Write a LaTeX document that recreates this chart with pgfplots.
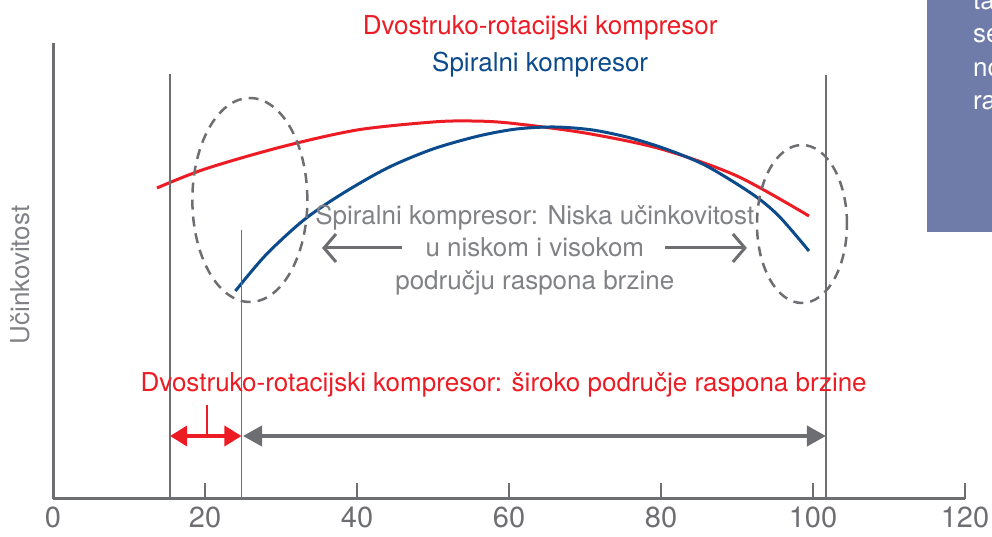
\documentclass[border=0pt]{standalone}
\usepackage{pgfplots}
\pgfplotsset{compat=1.18}
\usepackage{fontspec}
\setmainfont{TeX Gyre Heros}
\usetikzlibrary{arrows.meta}
\definecolor{cred}{HTML}{ED1C24}
\definecolor{cblue}{HTML}{0B4A8B}
\definecolor{cgray}{HTML}{6D6E71}
\definecolor{tgray}{HTML}{808285}
\definecolor{cbox}{HTML}{6F7BA9}
\begin{document}
\begin{tikzpicture}
\useasboundingbox (-53pt,-38pt) rectangle (939pt,499pt);
\fill[cbox] (874pt,267pt) rectangle (945pt,505pt);
\begin{axis}[at={(0pt,0pt)}, anchor=south west, scale only axis,
  width=912pt, height=456pt,
  xmin=0, xmax=120, ymin=0, ymax=456, clip=false,
  axis x line=bottom, axis y line=left,
  axis line style={cgray, line width=3pt, -},
  xtick={0,20,...,120}, ytick=\empty,
  tick align=inside, major tick length=16pt,
  tick style={cgray, line width=1.5pt},
  xticklabel style={font=\fontsize{29}{29}\selectfont, text=cgray, yshift=-4pt},
  /pgf/number format/assume math mode=true]
\addplot[cred, line width=3pt, smooth] coordinates {(13.68,311) (20,330) (30,352) (40,369) (50,377) (55,378) (60,376) (70,366) (80,350) (90,323) (99.47,283)};
\addplot[cblue, line width=3pt, smooth] coordinates {(24,208) (28,244) (33,279) (38,305) (44,331) (50,350) (56,363) (61,370) (66,372) (71,369) (76,361) (81,349) (86,333) (92,305) (95.5,283) (99.47,248)};
% vertical guide lines
\draw[cgray, line width=1.5pt] (axis cs:15.4,0) -- (axis cs:15.4,425);
\draw[cgray, line width=1.5pt] (axis cs:24.8,0) -- (axis cs:24.8,269);
\draw[cgray, line width=1.5pt] (axis cs:101.7,0) -- (axis cs:101.7,424);
% ellipses
\draw[cgray, line width=2.5pt, dash pattern=on 10pt off 7pt] (axis cs:25.9,299) ellipse [x radius=57.5pt, y radius=102pt];
\draw[cgray, line width=2.5pt, dash pattern=on 10pt off 7pt] (axis cs:98.55,275) ellipse [x radius=45pt, y radius=79pt];
% range arrows
\draw[cred, line width=3.5pt, {Triangle[width=20pt,length=17pt]}-{Triangle[width=20pt,length=17pt]}] (axis cs:15.4,63) -- (axis cs:24.8,63);
\draw[cred, line width=1.5pt] (axis cs:20.26,63) -- (axis cs:20.26,94);
\draw[cgray, line width=4pt, {Triangle[width=20pt,length=19pt]}-{Triangle[width=20pt,length=19pt]}] (axis cs:25.0,63) -- (axis cs:101.7,63);
% text arrows
\draw[cgray, line width=3pt, -{Straight Barb[length=12pt,width=28pt]}] (axis cs:45.9,251) -- (axis cs:35.4,251);
\draw[cgray, line width=3pt, -{Straight Barb[length=12pt,width=28pt]}] (axis cs:80.5,251) -- (axis cs:91.3,251);
% texts
\node[anchor=base, text=cred, font=\fontsize{26}{26}\selectfont] at (axis cs:64.1,464) {Dvostruko-rotacijski kompresor};
\node[anchor=base, text=cblue, font=\fontsize{26}{26}\selectfont] at (axis cs:64.1,427) {Spiralni kompresor};
\node[anchor=base, text=tgray, font=\fontsize{26}{26}\selectfont] at (axis cs:63.4,274) {Spiralni kompresor: Niska učinkovitost};
\node[anchor=base, text=tgray, font=\fontsize{26}{26}\selectfont] at (axis cs:63.4,242) {u niskom i visokom};
\node[anchor=base, text=tgray, font=\fontsize{26}{26}\selectfont] at (axis cs:63.4,209) {području raspona brzine};
\node[anchor=base, text=cred, font=\fontsize{26}{26}\selectfont] at (axis cs:59.3,107) {Dvostruko-rotacijski kompresor: široko područje raspona brzine};
\node[rotate=90, text=tgray, font=\fontsize{26}{26}\selectfont] at (axis cs:-4.34,224) {Učinkovitost};
\end{axis}
\node[anchor=base west, inner sep=0pt, text=white, font=\fontsize{26}{26}\selectfont] at (920pt,489pt) {ta};
\node[anchor=base west, inner sep=0pt, text=white, font=\fontsize{26}{26}\selectfont] at (920pt,456pt) {se};
\node[anchor=base west, inner sep=0pt, text=white, font=\fontsize{26}{26}\selectfont] at (920pt,422pt) {no};
\node[anchor=base west, inner sep=0pt, text=white, font=\fontsize{26}{26}\selectfont] at (920pt,389pt) {ra};
\end{tikzpicture}
\end{document}
